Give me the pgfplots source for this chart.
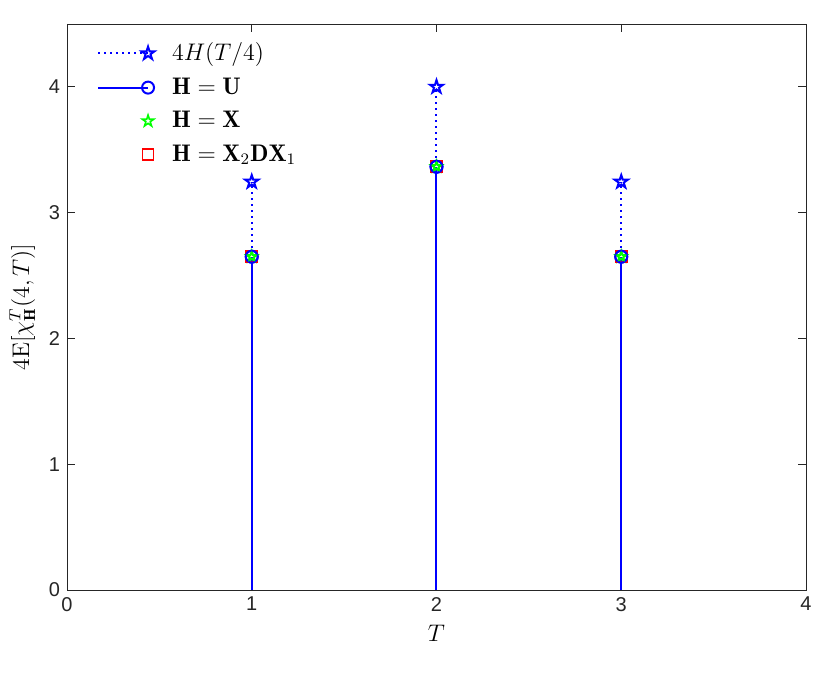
\documentclass[border=0pt]{standalone}
\usepackage{pgfplots}
\pgfplotsset{compat=1.18}
\usepackage{fontspec}
\newfontfamily\ticksfont{Liberation Sans}
\definecolor{axgray}{rgb}{0.15,0.15,0.15}
\pgfdeclareplotmark{pentagram}{%
  \pgfpathmoveto{\pgfpointpolar{90}{\pgfplotmarksize}}%
  \pgfpathlineto{\pgfpointpolar{126}{0.382\pgfplotmarksize}}%
  \pgfpathlineto{\pgfpointpolar{162}{\pgfplotmarksize}}%
  \pgfpathlineto{\pgfpointpolar{198}{0.382\pgfplotmarksize}}%
  \pgfpathlineto{\pgfpointpolar{234}{\pgfplotmarksize}}%
  \pgfpathlineto{\pgfpointpolar{270}{0.382\pgfplotmarksize}}%
  \pgfpathlineto{\pgfpointpolar{306}{\pgfplotmarksize}}%
  \pgfpathlineto{\pgfpointpolar{342}{0.382\pgfplotmarksize}}%
  \pgfpathlineto{\pgfpointpolar{18}{\pgfplotmarksize}}%
  \pgfpathlineto{\pgfpointpolar{54}{0.382\pgfplotmarksize}}%
  \pgfpathclose\pgfusepathqstroke}
\pgfplotsset{
  stemleg/.style={legend image code/.code={\path[draw=none] (0pt,0pt)--(34pt,0pt);
    \draw[##1, sharp plot, mark repeat=2, mark phase=2] plot coordinates {(0pt,0pt)(25pt,0pt)};}},
  markleg/.style={legend image code/.code={\path[draw=none] (0pt,0pt)--(34pt,0pt);
    \draw[##1, only marks] plot coordinates {(25pt,0pt)};}},
}
\begin{document}
\begin{tikzpicture}
\begin{axis}[
  at={(0pt,0pt)}, anchor=south west,
  scale only axis, width=369.5pt, height=283pt,
  xmin=0, xmax=4, ymin=0, ymax=4.5,
  xtick={0,1,2,3,4}, ytick={0,1,2,3,4},
  tick align=inside, major tick length=4pt,
  axis line style={axgray, line width=0.4pt},
  every tick/.style={axgray, line width=0.4pt},
  tick label style={font=\ticksfont, text=axgray},
  /pgf/number format/assume math mode=true,
  xlabel={$T$}, ylabel={$4\mathrm{E}[\chi^T_{\mathbf{H}}(4,T)]$},
  label style={font=\large},
  legend style={at={(0.032,0.985)}, anchor=north west, draw=none, fill=none,
    font=\large, row sep=1pt, nodes={inner sep=3pt}},
  legend cell align=left,
]
\addplot[blue, dotted, line width=1pt, ycomb, mark=pentagram, mark size=3.4pt,
  mark options={solid}, stemleg]
  coordinates {(1,3.245) (2,4) (3,3.245)};
\addlegendentry{$4H(T/4)$}
\addplot[blue, solid, line width=1pt, ycomb, mark=o, mark size=3pt, stemleg]
  coordinates {(1,2.65) (2,3.365) (3,2.65)};
\addlegendentry{$\mathbf{H}=\mathbf{U}$}
\addplot[green, only marks, mark=pentagram, mark size=3pt, line width=0.8pt, markleg]
  coordinates {(1,2.65) (2,3.365) (3,2.65)};
\addlegendentry{$\mathbf{H}=\mathbf{X}$}
\addplot[red, only marks, mark=square, mark size=2.8pt, line width=0.8pt, markleg]
  coordinates {(1,2.65) (2,3.365) (3,2.65)};
\addlegendentry{$\mathbf{H}=\mathbf{X}_2\mathbf{D}\mathbf{X}_1$}
\addplot[blue, only marks, mark=o, mark size=3pt, line width=1pt, forget plot]
  coordinates {(1,2.65) (2,3.365) (3,2.65)};
\addplot[green, only marks, mark=pentagram, mark size=2.2pt, line width=0.6pt, forget plot]
  coordinates {(1,2.65) (2,3.365) (3,2.65)};
\end{axis}
\pgfresetboundingbox
\path (-33.5pt,-44pt) rectangle (381.5pt,295pt);
\end{tikzpicture}
\end{document}
